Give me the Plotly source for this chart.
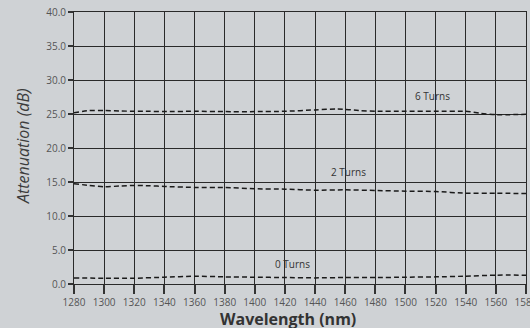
import plotly.graph_objects as go

wavelength = [1280, 1290, 1300, 1310, 1320, 1330, 1340, 1360, 1380, 1400, 1420, 1440, 1455, 1470, 1480, 1500, 1520, 1540, 1550, 1560, 1580]
turns6 = [25.2, 25.5, 25.5, 25.45, 25.4, 25.4, 25.35, 25.4, 25.35, 25.35, 25.4, 25.6, 25.75, 25.5, 25.4, 25.4, 25.4, 25.4, 25.1, 24.9, 24.95]
wl2 = [1280, 1290, 1300, 1310, 1320, 1330, 1340, 1360, 1380, 1400, 1420, 1440, 1460, 1480, 1500, 1520, 1540, 1560, 1580]
turns2 = [14.75, 14.5, 14.3, 14.4, 14.5, 14.45, 14.35, 14.2, 14.2, 14.0, 13.95, 13.8, 13.85, 13.75, 13.65, 13.6, 13.35, 13.35, 13.3]
wl0 = [1280, 1300, 1320, 1340, 1360, 1380, 1400, 1420, 1440, 1460, 1480, 1500, 1520, 1540, 1560, 1580]
turns0 = [0.9, 0.85, 0.85, 1.0, 1.15, 1.05, 1.0, 0.95, 0.9, 0.95, 0.95, 1.0, 1.05, 1.15, 1.3, 1.3]

labels = ["6 Turns", "2 Turns", "0 Turns"]
label_x = [1518, 1462, 1425]
label_y = [27.6, 16.5, 2.9]

x_title = "Wavelength (nm)"
y_title = "Attenuation (dB)"

fig = go.Figure()
for xs, ys in [(wavelength, turns6), (wl2, turns2), (wl0, turns0)]:
    fig.add_trace(go.Scatter(x=xs, y=ys, mode="lines",
                             line=dict(color="#1a1a1a", width=1.5, dash="5px,3px", shape="spline", smoothing=0.6),
                             showlegend=False, hoverinfo="skip"))

for t, x, y in zip(labels, label_x, label_y):
    fig.add_annotation(x=x, y=y, text=t, showarrow=False,
                       font=dict(family="Open Sans, sans-serif", size=10, color="#333333"))

fig.add_annotation(xref="paper", yref="paper", x=0.473, y=-0.128, text="<b>" + x_title + "</b>",
                   showarrow=False, xanchor="center", yanchor="middle",
                   font=dict(family="Open Sans, sans-serif", size=16, color="#333333"))
fig.add_annotation(xref="paper", yref="paper", x=-0.113, y=0.507, text="<i>" + y_title + "</i>",
                   showarrow=False, xanchor="center", yanchor="middle", textangle=-90,
                   font=dict(family="Open Sans, sans-serif", size=16, color="#3c3c3c"))

fig.update_layout(
    width=530, height=328,
    margin=dict(l=74, r=4, t=12, b=44, autoexpand=False),
    paper_bgcolor="#cfd2d5", plot_bgcolor="#cfd2d5",
    font=dict(family="Open Sans, sans-serif", color="#555555"),
)
fig.update_xaxes(range=[1280, 1580], dtick=20, tick0=1280,
                 showgrid=True, gridcolor="#2a2a2a", gridwidth=1,
                 showline=True, linecolor="#2a2a2a", linewidth=1, mirror=True,
                 ticks="outside", ticklen=9, tickcolor="#333333", tickwidth=2,
                 tickfont=dict(size=10, color="#555555"),
                 ticklabeloverflow="allow", automargin=False,
                 zeroline=False)
fig.update_yaxes(range=[0, 40], dtick=5, tickformat=".1f",
                 showgrid=True, gridcolor="#2a2a2a", gridwidth=1,
                 showline=True, linecolor="#2a2a2a", linewidth=1, mirror=True,
                 ticks="outside", ticklen=5, tickcolor="#333333", tickwidth=2,
                 tickfont=dict(size=10, color="#555555"), automargin=False,
                 zeroline=False)

fig.write_html("out.html", config={"displayModeBar": False},
               post_script="document.body.style.margin='0';document.body.style.overflow='hidden';")
